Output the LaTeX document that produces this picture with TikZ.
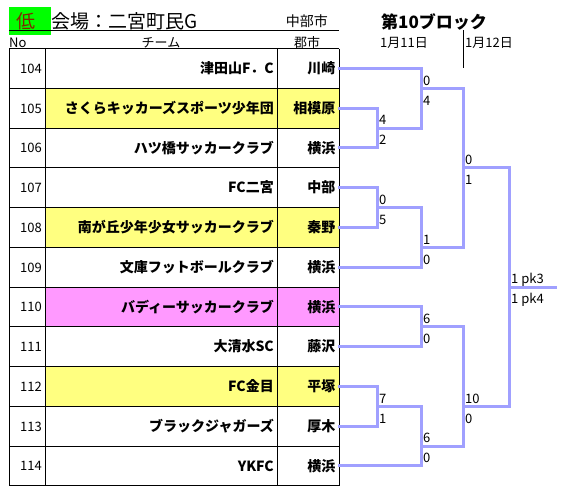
\documentclass[tikz,border=0pt]{standalone}
\usepackage{fontspec}
\setmainfont{Noto Sans CJK JP}
\definecolor{brline}{RGB}{160,160,255}
\definecolor{rowyellow}{RGB}{255,255,128}
\definecolor{rowpink}{RGB}{255,153,255}
\definecolor{lowgreen}{RGB}{0,255,0}
\definecolor{lowtext}{RGB}{128,40,0}
\tikzset{
  txt/.style={inner sep=0pt, text height=12.3pt, text depth=1.7pt},
  txtsmall/.style={inner sep=0pt, text height=11.4pt, text depth=1.6pt},
  txtbig/.style={inner sep=0pt, text height=16.4pt, text depth=2.3pt},
  teamname/.style={txt, anchor=east, font=\fontsize{14}{16}\selectfont\bfseries},
  cityname/.style={txt, anchor=east, font=\fontsize{14}{16}\selectfont\bfseries},
  numtext/.style={txtsmall, anchor=east, font=\fontsize{13}{15}\selectfont},
  headtext/.style={txtsmall, font=\fontsize{13}{15}\selectfont},
  scoretext/.style={txtsmall, anchor=west, font=\fontsize{13}{15}\selectfont},
  tablerule/.style={line width=1pt, black},
  bracket/.style={line width=3pt, brline, line join=miter, line cap=rect},
}
\begin{document}
\begin{tikzpicture}[x=1pt,y=-1pt]
\useasboundingbox (0,0) rectangle (564,499);
% row fills
\fill[rowyellow] (45,88.25) rectangle (339,128);
\fill[rowyellow] (45,207.5) rectangle (339,247.25);
\fill[rowpink]   (45,287) rectangle (339,326.75);
\fill[rowyellow] (45,366.5) rectangle (339,406.25);
% title
\fill[lowgreen] (9,6.7) rectangle (50.7,35);
\node[txtbig, text=lowtext, font=\fontsize{19}{21}\selectfont] (low) at (26,21) {低};
\node[txtbig, anchor=west, font=\fontsize{19}{21}\selectfont] (venue) at (51,21) {会場：二宮町民G};
\node[txt, anchor=east, font=\fontsize{14}{16}\selectfont] (district) at (328,21.3) {中部市};
\node[txtbig, anchor=west, font=\fontsize{17}{19}\selectfont\bfseries] (block) at (381,21.3) {第10ブロック};
\draw[tablerule] (9,30.7) -- (339,30.7);
% header row
\node[headtext, anchor=west] (hno) at (9,43) {No};
\node[headtext] (hteam) at (161,43) {チーム};
\node[headtext, anchor=west] (hcity) at (294,43) {郡市};
\node[headtext, anchor=west] (day1) at (380,43) {1月11日};
\node[headtext, anchor=west] (day2) at (465,43) {1月12日};
\coordinate (dtop) at (463,30);
\coordinate (dbot) at (463,68);
\draw[line width=1pt] (dtop) -- (dbot);
% table grid
\foreach \k in {0,...,11}{
  \pgfmathsetmacro\yb{48.5+39.75*\k}
  \draw[tablerule] (9,\yb) -- (339,\yb);
}
\foreach \xv in {9,45,277.5,339}{
  \draw[tablerule] (\xv,48.5) -- (\xv,485.75);
}
% rows
\foreach \n/\team/\city [count=\i from 0] in {
  104/津田山F．C/川崎,
  105/さくらキッカーズスポーツ少年団/相模原,
  106/ハツ橋サッカークラブ/横浜,
  107/FC二宮/中部,
  108/南が丘少年少女サッカークラブ/秦野,
  109/文庫フットボールクラブ/横浜,
  110/バディーサッカークラブ/横浜,
  111/大清水SC/藤沢,
  112/FC金目/平塚,
  113/ブラックジャガーズ/厚木,
  114/YKFC/横浜}{
  \pgfmathsetmacro\yc{68.4+39.75*\i}
  \node[numtext] (no\n) at (42,\yc) {\n};
  \node[teamname] (tm\n) at (274,\yc) {\team};
  \node[cityname] (ct\n) at (335.5,\yc) {\city};
  \coordinate (r\n) at (339.5,\yc);
}
% bracket junctions
\coordinate (A) at (377,128);
\coordinate (B) at (421,88.25);
\coordinate (C) at (377,207.5);
\coordinate (D) at (421,247.25);
\coordinate (E) at (463,167.75);
\coordinate (F) at (421,326.75);
\coordinate (G) at (377,406.25);
\coordinate (H) at (421,446);
\coordinate (I) at (463,406.25);
\coordinate (J) at (509,287);
\coordinate (Jend) at (555,287);
\draw[bracket] (r105) -| (A) |- (r106);
\draw[bracket] (r104) -| (B) |- (A);
\draw[bracket] (r107) -| (C) |- (r108);
\draw[bracket] (C) -| (D) |- (r109);
\draw[bracket] (B) -| (E) |- (D);
\draw[bracket] (r110) -| (F) |- (r111);
\draw[bracket] (r112) -| (G) |- (r113);
\draw[bracket] (G) -| (H) |- (r114);
\draw[bracket] (F) -| (I) |- (H);
\draw[bracket] (E) -| (J) |- (I);
\draw[bracket] (J) -- (Jend);
% scores
\node[scoretext] (sA1) at ([xshift=2pt,yshift=8pt]A) {4};
\node[scoretext] (sA2) at ([xshift=2pt,yshift=-12pt]A) {2};
\node[scoretext] (sB1) at ([xshift=2pt,yshift=8pt]B) {0};
\node[scoretext] (sB2) at ([xshift=2pt,yshift=-12pt]B) {4};
\node[scoretext] (sC1) at ([xshift=2pt,yshift=8pt]C) {0};
\node[scoretext] (sC2) at ([xshift=2pt,yshift=-12pt]C) {5};
\node[scoretext] (sD1) at ([xshift=2pt,yshift=8pt]D) {1};
\node[scoretext] (sD2) at ([xshift=2pt,yshift=-12pt]D) {0};
\node[scoretext] (sE1) at ([xshift=2pt,yshift=8pt]E) {0};
\node[scoretext] (sE2) at ([xshift=2pt,yshift=-12pt]E) {1};
\node[scoretext] (sF1) at ([xshift=2pt,yshift=8pt]F) {6};
\node[scoretext] (sF2) at ([xshift=2pt,yshift=-12pt]F) {0};
\node[scoretext] (sG1) at ([xshift=2pt,yshift=8pt]G) {7};
\node[scoretext] (sG2) at ([xshift=2pt,yshift=-12pt]G) {1};
\node[scoretext] (sH1) at ([xshift=2pt,yshift=8pt]H) {6};
\node[scoretext] (sH2) at ([xshift=2pt,yshift=-12pt]H) {0};
\node[scoretext] (sI1) at ([xshift=2pt,yshift=8pt]I) {10};
\node[scoretext] (sI2) at ([xshift=2pt,yshift=-12pt]I) {0};
\node[scoretext] (sJ1) at ([xshift=2pt,yshift=8pt]J) {1 pk3};
\node[scoretext] (sJ2) at ([xshift=2pt,yshift=-12pt]J) {1 pk4};
\end{tikzpicture}
\end{document}
